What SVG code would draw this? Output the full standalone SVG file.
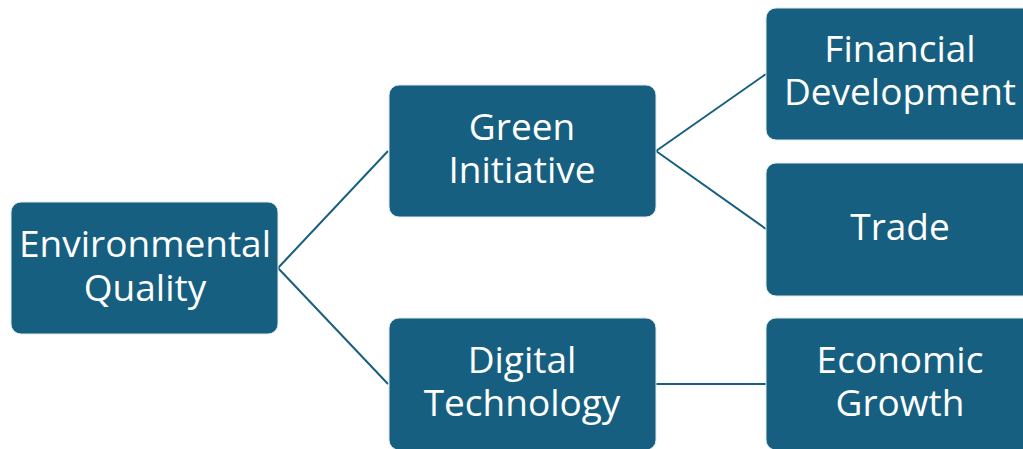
<svg xmlns="http://www.w3.org/2000/svg" width="1023" height="449" viewBox="0 0 1023 449">
<style>
.box{fill:#175f80;stroke:#dfe9ee;stroke-width:1}
.t{font-family:"Open Sans","Liberation Sans",sans-serif;font-size:37px;fill:#ffffff;text-anchor:middle}
.c{stroke:#175f80;stroke-width:2;fill:none}
</style>
<rect width="1023" height="449" fill="#ffffff"/>
<g id="connectors">
<line class="c" x1="278" y1="268" x2="388" y2="151"/>
<line class="c" x1="278" y1="268" x2="388" y2="384"/>
<line class="c" x1="656" y1="151" x2="766" y2="74"/>
<line class="c" x1="656" y1="151" x2="766" y2="229"/>
<line class="c" x1="656" y1="384" x2="766" y2="384"/>
</g>
<g id="env">
<rect class="box" x="11" y="202" width="267" height="132" rx="10"/>
<text class="t" x="145" y="257">Environmental</text>
<text class="t" x="145" y="301">Quality</text>
</g>
<g id="green">
<rect class="box" x="389" y="85" width="267" height="132" rx="10"/>
<text class="t" x="522" y="140">Green</text>
<text class="t" x="522" y="183">Initiative</text>
</g>
<g id="digital">
<rect class="box" x="389" y="318" width="267" height="132" rx="10"/>
<text class="t" x="522" y="373">Digital</text>
<text class="t" x="522" y="416">Technology</text>
</g>
<g id="financial">
<rect class="box" x="766" y="8" width="267" height="132" rx="10"/>
<text class="t" x="900" y="62">Financial</text>
<text class="t" x="900" y="105">Development</text>
</g>
<g id="trade">
<rect class="box" x="766" y="163" width="267" height="133" rx="10"/>
<text class="t" x="900" y="240">Trade</text>
</g>
<g id="economic">
<rect class="box" x="766" y="318" width="267" height="132" rx="10"/>
<text class="t" x="900" y="373">Economic</text>
<text class="t" x="900" y="416">Growth</text>
</g>
</svg>
